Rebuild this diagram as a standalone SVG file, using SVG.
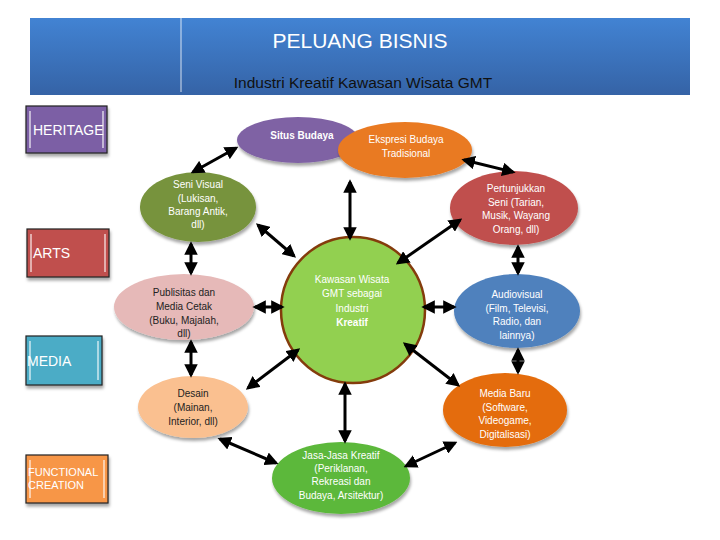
<svg xmlns="http://www.w3.org/2000/svg" width="720" height="540" viewBox="0 0 720 540">
<defs>
<linearGradient id="hdr" x1="0" y1="0" x2="0" y2="1">
<stop offset="0" stop-color="#4283d3"/>
<stop offset="1" stop-color="#3563a6"/>
</linearGradient>
<marker id="ah" viewBox="0 0 10 10" refX="8" refY="5" markerWidth="4.5" markerHeight="4.5" orient="auto-start-reverse">
<path d="M0,0 L10,5 L0,10 z" fill="#000"/>
</marker>
<filter id="sh" x="-20%" y="-20%" width="140%" height="150%">
<feDropShadow dx="1" dy="3" stdDeviation="1.5" flood-color="#000" flood-opacity="0.35"/>
</filter>
</defs>
<style>
.cat{stroke:#222;stroke-width:1.2}
.hl{stroke:#fff;stroke-opacity:0.55;stroke-width:2}
.ct{font-family:"Liberation Sans",Arial,sans-serif;font-size:14px;fill:#fff}
.et{font-family:"Liberation Sans",Arial,sans-serif;font-size:10px;fill:#fff;text-anchor:middle}
.dk{fill:#222}
.conn line{stroke:#000;stroke-width:3;marker-start:url(#ah);marker-end:url(#ah)}
</style>
<rect width="720" height="540" fill="#fff"/>
<g id="header">
<rect x="30" y="18" width="660" height="77" fill="url(#hdr)"/>
<line x1="181" y1="18" x2="181" y2="92" stroke="#fff" stroke-width="1" stroke-opacity="0.8"/>
<text x="360" y="48" text-anchor="middle" font-family="Liberation Sans,Arial,sans-serif" font-size="21" fill="#fff">PELUANG BISNIS</text>
<text x="363" y="88" text-anchor="middle" font-family="Liberation Sans,Arial,sans-serif" font-size="15.5" fill="#111">Industri Kreatif Kawasan Wisata GMT</text>
</g>
<g id="cat-heritage">
<rect class="cat" x="26" y="106" width="81" height="47" fill="#7b5fa5" filter="url(#sh)"/>
<line class="hl" x1="30" y1="111" x2="30" y2="148"/><line class="hl" x1="103" y1="111" x2="103" y2="148"/>
<text class="ct" x="33" y="135" font-size="13.5">HERITAGE</text>
</g>
<g id="cat-arts">
<rect class="cat" x="27" y="229" width="82" height="48" fill="#c0504d" filter="url(#sh)"/>
<line class="hl" x1="31" y1="234" x2="31" y2="272"/><line class="hl" x1="105" y1="234" x2="105" y2="272"/>
<text class="ct" x="33" y="258">ARTS</text>
</g>
<g id="cat-media">
<rect class="cat" x="26" y="336" width="76" height="49" fill="#4bacc6" filter="url(#sh)"/>
<line class="hl" x1="30" y1="341" x2="30" y2="380"/><line class="hl" x1="98" y1="341" x2="98" y2="380"/>
<text class="ct" x="27" y="366">MEDIA</text>
</g>
<g id="cat-functional">
<rect class="cat" x="26" y="455" width="82" height="48" fill="#f79646" filter="url(#sh)"/>
<line class="hl" x1="30" y1="460" x2="30" y2="498"/><line class="hl" x1="104" y1="460" x2="104" y2="498"/>
<text x="28" y="476" font-family="Liberation Sans,Arial,sans-serif" font-size="11" fill="#fff">FUNCTIONAL</text>
<text x="28" y="489" font-family="Liberation Sans,Arial,sans-serif" font-size="11" fill="#fff">CREATION</text>
</g>
<g id="situs-budaya">
<ellipse cx="298" cy="140" rx="61" ry="23" fill="#7f62a4" filter="url(#sh)"/>
<text class="et" x="302" y="139" font-weight="bold" font-size="10.5">Situs Budaya</text>
</g>
<g id="ekspresi-budaya">
<ellipse cx="405" cy="150" rx="67" ry="28" fill="#e97a22" filter="url(#sh)"/>
<text class="et" x="406" y="143">Ekspresi Budaya</text>
<text class="et" x="406" y="157">Tradisional</text>
</g>
<g id="seni-visual">
<ellipse cx="198" cy="207" rx="58" ry="35" fill="#77933c" filter="url(#sh)"/>
<text class="et" x="198" y="188">Seni Visual</text>
<text class="et" x="198" y="202">(Lukisan,</text>
<text class="et" x="198" y="215">Barang Antik,</text>
<text class="et" x="198" y="228">dll)</text>
</g>
<g id="pertunjukkan">
<ellipse cx="514" cy="208" rx="64" ry="37" fill="#c0504d" filter="url(#sh)"/>
<text class="et" x="516" y="192">Pertunjukkan</text>
<text class="et" x="516" y="206">Seni (Tarian,</text>
<text class="et" x="516" y="219">Musik, Wayang</text>
<text class="et" x="516" y="233">Orang, dll)</text>
</g>
<g id="publisitas">
<ellipse cx="184" cy="307" rx="70" ry="33" fill="#e6b9b8" filter="url(#sh)"/>
<text class="et dk" x="184" y="296">Publisitas dan</text>
<text class="et dk" x="184" y="310">Media Cetak</text>
<text class="et dk" x="184" y="324">(Buku, Majalah,</text>
<text class="et dk" x="184" y="337">dll)</text>
</g>
<g id="kawasan-wisata">
<ellipse cx="353" cy="310" rx="72" ry="73" fill="#92d050" stroke="#843c0c" stroke-width="2.5"/>
<text class="et" x="352" y="283" font-size="11">Kawasan Wisata</text>
<text class="et" x="352" y="297" font-size="11">GMT sebagai</text>
<text class="et" x="352" y="312" font-size="11">Industri</text>
<text class="et" x="352" y="326" font-size="11" font-weight="bold">Kreatif</text>
</g>
<g id="audiovisual">
<ellipse cx="517" cy="311" rx="63" ry="37" fill="#4f81bd" filter="url(#sh)"/>
<text class="et" x="517" y="298">Audiovisual</text>
<text class="et" x="517" y="312">(Film, Televisi,</text>
<text class="et" x="517" y="325">Radio, dan</text>
<text class="et" x="517" y="339">lainnya)</text>
</g>
<g id="desain">
<ellipse cx="193" cy="407" rx="55" ry="31" fill="#fac090" filter="url(#sh)"/>
<text class="et dk" x="193" y="397">Desain</text>
<text class="et dk" x="193" y="411">(Mainan,</text>
<text class="et dk" x="193" y="425">Interior, dll)</text>
</g>
<g id="media-baru">
<ellipse cx="505" cy="410" rx="62" ry="37" fill="#e46c0a" filter="url(#sh)"/>
<text class="et" x="505" y="397">Media Baru</text>
<text class="et" x="505" y="411">(Software,</text>
<text class="et" x="505" y="424">Videogame,</text>
<text class="et" x="505" y="438">Digitalisasi)</text>
</g>
<g id="jasa-kreatif">
<ellipse cx="341" cy="478" rx="69" ry="36" fill="#5cb83a" filter="url(#sh)"/>
<text class="et" x="341" y="459">Jasa-Jasa Kreatif</text>
<text class="et" x="341" y="472">(Periklanan,</text>
<text class="et" x="341" y="485">Rekreasi dan</text>
<text class="et" x="341" y="499">Budaya, Arsitektur)</text>
</g>
<g id="connectors" class="conn">
<line x1="236" y1="148" x2="193" y2="172"/>
<line x1="464" y1="160" x2="513" y2="172"/>
<line x1="350" y1="182" x2="350" y2="238"/>
<line x1="258" y1="225" x2="294" y2="256"/>
<line x1="460" y1="220" x2="398" y2="263"/>
<line x1="191" y1="244" x2="191" y2="273"/>
<line x1="518" y1="247" x2="518" y2="273"/>
<line x1="255" y1="307" x2="282" y2="307"/>
<line x1="424" y1="307" x2="454" y2="307"/>
<line x1="191" y1="342" x2="191" y2="375"/>
<line x1="518" y1="350" x2="518" y2="372"/>
<line x1="298" y1="350" x2="248" y2="388"/>
<line x1="405" y1="344" x2="458" y2="385"/>
<line x1="220" y1="439" x2="276" y2="463"/>
<line x1="455" y1="443" x2="406" y2="466"/>
<line x1="345" y1="384" x2="345" y2="441"/>
</g>
</svg>
